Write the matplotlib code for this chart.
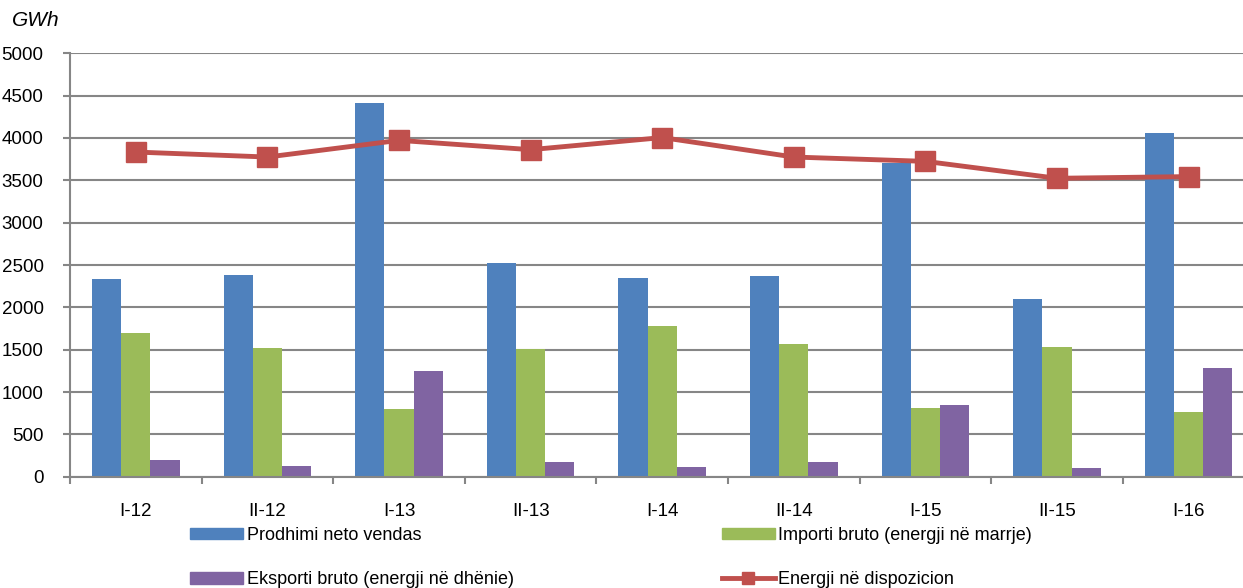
import numpy as np
import matplotlib
matplotlib.use('Agg')
import matplotlib.pyplot as plt
from matplotlib.lines import Line2D
from matplotlib.patches import Patch

plt.rcParams['font.family'] = ['Liberation Sans', 'DejaVu Sans']

# ================================
periods = ['I-12', 'II-12', 'I-13', 'II-13', 'I-14', 'II-14', 'I-15', 'II-15', 'I-16']
prodhimi = [2330, 2380, 4415, 2525, 2345, 2368, 3700, 2100, 4055]
importi = [1700, 1518, 800, 1510, 1778, 1562, 808, 1535, 768]
eksporti = [198, 132, 1248, 168, 114, 168, 842, 108, 1284]
energji = [3834, 3775, 3972, 3862, 4005, 3775, 3724, 3524, 3544]

names = ['Prodhimi neto vendas', 'Importi bruto (energji në marrje)',
         'Eksporti bruto (energji në dhënie)', 'Energji në dispozicion']
c_blue = '#4F81BD'
c_green = '#9BBB59'
c_purple = '#8064A2'
c_red = '#C0504D'
grid_c = '#868686'

fig = plt.figure(figsize=(12.43, 5.88), dpi=100)
ax = fig.add_axes([70/1243, 1-476.7/588, 1184.4/1243, 423.4/588])

x = np.arange(len(periods))
w = 0.222
ax.bar(x-w, prodhimi, w, color=c_blue, zorder=2)
ax.bar(x, importi, w, color=c_green, zorder=2)
ax.bar(x+w, eksporti, w, color=c_purple, zorder=2)
ax.plot(x, energji, color=c_red, lw=3.5, marker='s', ms=14, zorder=3)

ax.set_xlim(-0.5, len(periods)-0.5)
ax.set_ylim(0, 5000)
ax.set_yticks(np.arange(0, 5001, 500))
ax.yaxis.grid(True, color=grid_c, lw=1.5)
ax.set_axisbelow(True)

ax.set_xticks(x)
ax.set_xticklabels(periods, fontsize=13.5)
ax.set_xticks(np.arange(-0.5, len(periods), 1), minor=True)
ax.tick_params(axis='x', which='major', length=0, pad=19)
ax.tick_params(axis='x', which='minor', length=5, width=1.5, color=grid_c, direction='out')
ax.tick_params(axis='y', length=5, width=1.5, color=grid_c, labelsize=13.5, pad=14)

for s in ['top', 'right']:
    ax.spines[s].set_visible(False)
for s in ['left', 'bottom']:
    ax.spines[s].set_color(grid_c)
    ax.spines[s].set_linewidth(1.5)

fig.text(12/1243, 1-20/588, 'GWh', fontsize=15, style='italic', va='center', ha='left')

handles = [Patch(color=c_blue), Patch(color=c_purple), Patch(color=c_green),
           Line2D([], [], color=c_red, lw=3.5, marker='s', ms=9)]
labels = [names[0], names[2], names[1], names[3]]
fig.legend(handles, labels, ncol=2, loc='upper left', bbox_to_anchor=(190/1243, 1-527/588),
           frameon=False, fontsize=13, handlelength=2.95, handleheight=0.6, handletextpad=0.2,
           borderpad=0, borderaxespad=0, labelspacing=1.52, columnspacing=11.5)

fig.savefig('out.png', dpi=100)
